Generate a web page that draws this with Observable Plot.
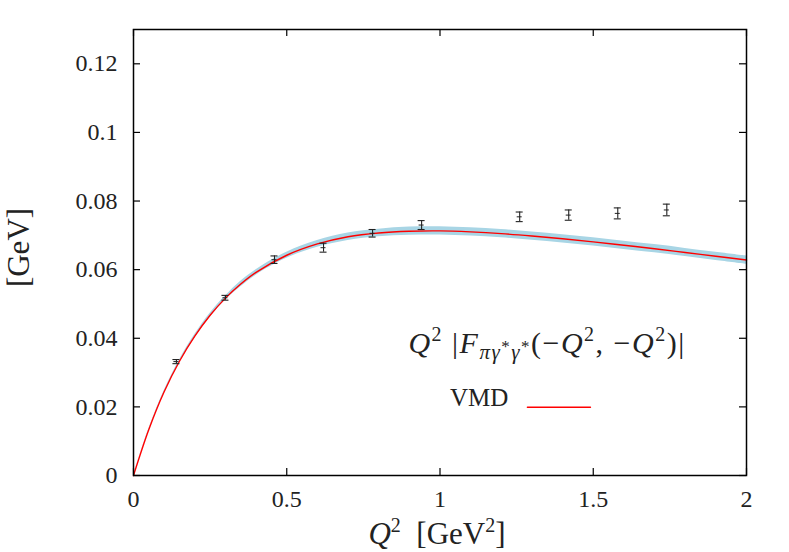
<!DOCTYPE html>
<html><head><meta charset="utf-8">
<script src="https://cdn.jsdelivr.net/npm/d3@7"></script>
<script src="https://cdn.jsdelivr.net/npm/@observablehq/plot@0.6"></script>
<style>body{margin:0;background:#fff}</style>
</head><body><div id="chart"></div>
<script>
// Lattice data points with error bars
const latticeQ2 = [0.14, 0.30, 0.46, 0.62, 0.78, 0.94, 1.26, 1.42, 1.58, 1.74];
const latticeValue = [0.0332, 0.0518, 0.0629, 0.0664, 0.0706, 0.0730, 0.0754, 0.0759, 0.0764, 0.0774];
const latticeError = [0.0006, 0.0007, 0.0011, 0.0013, 0.0011, 0.0013, 0.0014, 0.0015, 0.0016, 0.0017];

// VMD curve and its uncertainty band
const curveQ2 = [0, 0.05, 0.1, 0.15, 0.2, 0.25, 0.3, 0.35, 0.4, 0.5, 0.6, 0.7, 0.8, 0.9, 1.0, 1.1, 1.2, 1.3, 1.4, 1.5, 1.6, 1.7, 1.8, 1.9, 2.0];
const vmdValue = [0, 0.0134, 0.0244, 0.0333, 0.0406, 0.0467, 0.0517, 0.0558, 0.0592, 0.0642, 0.0675, 0.0696, 0.0707, 0.0712, 0.0713, 0.0710, 0.0705, 0.0698, 0.0690, 0.0681, 0.0671, 0.0661, 0.0650, 0.0639, 0.0628];
const bandLow = [0, 0.0132, 0.0241, 0.0329, 0.0401, 0.0461, 0.0511, 0.0550, 0.0584, 0.0633, 0.0665, 0.0685, 0.0696, 0.0700, 0.0701, 0.0698, 0.0693, 0.0686, 0.0678, 0.0669, 0.0659, 0.0649, 0.0638, 0.0627, 0.0616];
const bandHigh = [0, 0.0136, 0.0247, 0.0337, 0.0411, 0.0473, 0.0523, 0.0566, 0.0600, 0.0651, 0.0685, 0.0707, 0.0718, 0.0724, 0.0725, 0.0722, 0.0717, 0.0710, 0.0702, 0.0693, 0.0683, 0.0673, 0.0662, 0.0651, 0.0640];

// Axes
const xTicks = [0, 0.5, 1, 1.5, 2];
const xTickLabels = ["0", "0.5", "1", "1.5", "2"];
const yTicks = [0, 0.02, 0.04, 0.06, 0.08, 0.1, 0.12];
const yTickLabels = ["0", "0.02", "0.04", "0.06", "0.08", "0.1", "0.12"];
const xDomain = [0, 2];
const yDomain = [0, 0.13];
const xLabel = "Q² [GeV²]";
const yLabel = "[GeV]";
const legendLabel = "VMD";
const formulaLabel = "Q² |Fπγ*γ*(−Q², −Q²)|";

const lattice = latticeQ2.map((q, i) => ({q, v: latticeValue[i], lo: latticeValue[i] - latticeError[i], hi: latticeValue[i] + latticeError[i]}));
const curve = curveQ2.map((q, i) => ({q, v: vmdValue[i], lo: bandLow[i], hi: bandHigh[i]}));

const W = 789, H = 552, mL = 133, mR = 43, mT = 29, mB = 77;
const fw = W - mL - mR, fh = H - mT - mB, tk = 7;

const chart = Plot.plot({
  width: W, height: H,
  marginLeft: mL, marginRight: mR, marginTop: mT, marginBottom: mB,
  style: {fontFamily: "'Liberation Serif', serif", fontSize: "24px", color: "#222", background: "#fff"},
  x: {domain: xDomain},
  y: {domain: yDomain},
  marks: [
    Plot.areaY(curve, {x: "q", y1: "lo", y2: "hi", fill: "#a8d5e5", curve: "catmull-rom"}),
    Plot.line(curve, {x: "q", y: "v", stroke: "#ff0000", strokeWidth: 1.4, curve: "catmull-rom"}),
    Plot.ruleX(lattice, {x: "q", y1: "lo", y2: "hi", stroke: "#222", strokeWidth: 1.1}),
    Plot.ruleY(lattice, {y: "hi", x1: "q", x2: "q", insetLeft: -3.5, insetRight: -3.5, stroke: "#222", strokeWidth: 1.1}),
    Plot.ruleY(lattice, {y: "lo", x1: "q", x2: "q", insetLeft: -3.5, insetRight: -3.5, stroke: "#222", strokeWidth: 1.1}),
    Plot.ruleY(lattice, {y: "v", x1: "q", x2: "q", insetLeft: -2.5, insetRight: -2.5, stroke: "#222", strokeWidth: 1}),
    // inward ticks, mirrored
    Plot.tickX(xTicks, {x: d => d, insetTop: fh - tk, stroke: "#000", strokeWidth: 1.2}),
    Plot.tickX(xTicks, {x: d => d, insetBottom: fh - tk, stroke: "#000", strokeWidth: 1.2}),
    Plot.tickY(yTicks, {y: d => d, insetRight: fw - tk, stroke: "#000", strokeWidth: 1.2}),
    Plot.tickY(yTicks, {y: d => d, insetLeft: fw - tk, stroke: "#000", strokeWidth: 1.2}),
    Plot.axisX({ticks: xTicks, tickSize: 0, tickPadding: 14, fontSize: 24, tickFormat: d => xTickLabels[xTicks.indexOf(d)], label: null}),
    Plot.axisY({ticks: yTicks, tickSize: 0, tickPadding: 16, fontSize: 24, tickFormat: d => yTickLabels[yTicks.findIndex(t => Math.abs(t - d) < 1e-9)], label: null}),
    Plot.frame({stroke: "#000", strokeWidth: 1.5}),
    // axis titles
    Plot.text([yLabel], {text: d => d, frameAnchor: "left", textAnchor: "middle", dx: -114, dy: -5, rotate: -90, fontSize: 31, fill: "#222"}),
    Plot.text([xLabel], {text: d => d, frameAnchor: "bottom", textAnchor: "middle", dx: -3, dy: 68, lineAnchor: "bottom", fontSize: 31, fill: "#222"}),
    // annotation & legend
    Plot.text([formulaLabel], {text: d => d, x: 0.897, y: 0.0358, textAnchor: "start", lineAnchor: "bottom", fontSize: 30, fill: "#222"}),
    Plot.text([legendLabel], {text: d => d, x: 1.223, y: 0.0204, textAnchor: "end", lineAnchor: "bottom", fontSize: 25, fill: "#222"}),
    Plot.line([{q: 1.285, v: 0.0199}, {q: 1.491, v: 0.0199}], {x: "q", y: "v", stroke: "#ff0000", strokeWidth: 1.3})
  ]
});
document.getElementById("chart").appendChild(chart);

function rich(sel, parts) {
  sel.text("");
  let cur = 0;
  for (const p of parts) {
    const off = p.o || 0;
    const ts = sel.append("tspan").text(p.t);
    if (off !== cur) { ts.attr("dy", off - cur); cur = off; }
    if (p.i) ts.attr("font-style", "italic");
    if (p.s) ts.attr("font-size", p.s);
  }
}
const svg = d3.select(chart);
const byText = s => svg.selectAll("text").filter(function() { return this.textContent === s; });
rich(byText(xLabel), [
  {t: "Q", i: 1}, {t: "2", o: -12, s: 20}, {t: "\u00a0\u00a0[GeV"}, {t: "2", o: -12, s: 20}, {t: "]"}
]);
rich(byText(formulaLabel).attr("letter-spacing", 1.5), [
  {t: "Q", i: 1}, {t: "2", o: -12, s: 20}, {t: "\u00a0|"}, {t: "F", i: 1},
  {t: "πγ", i: 1, o: 6, s: 21}, {t: "*", o: -1, s: 17}, {t: "γ", i: 1, o: 6, s: 21}, {t: "*", o: -1, s: 17},
  {t: "(−"}, {t: "Q", i: 1}, {t: "2", o: -12, s: 20}, {t: ", −"}, {t: "Q", i: 1}, {t: "2", o: -12, s: 20}, {t: ")|"}
]);
</script>
</body></html>
